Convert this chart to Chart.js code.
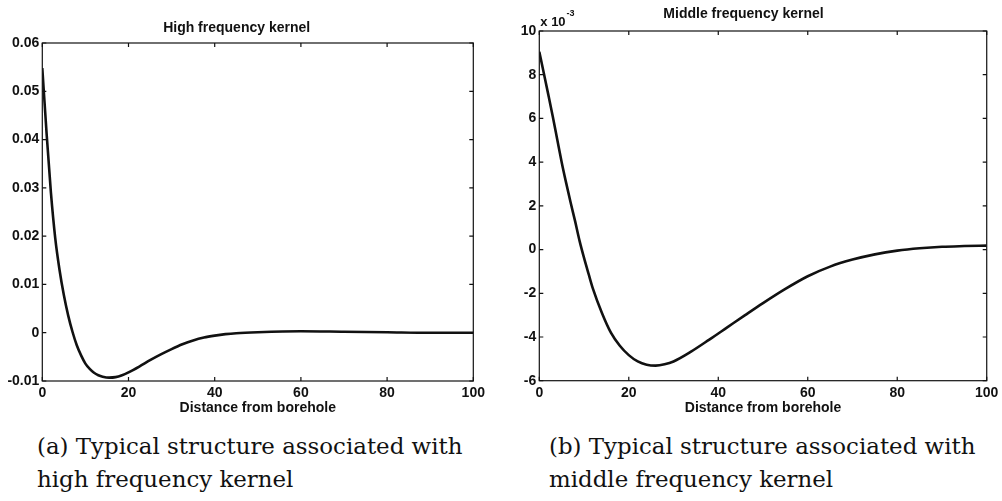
<!DOCTYPE html>
<html>
<head>
<meta charset="utf-8">
<script src="https://cdn.jsdelivr.net/npm/chart.js@4/dist/chart.umd.min.js"></script>
<style>
  html, body { margin: 0; padding: 0; background: #fff; }
  body { width: 1002px; height: 501px; position: relative; overflow: hidden; }
  .panel { position: absolute; top: 0; height: 425px; }
  .caption { position: absolute; font-family: "DejaVu Serif", serif; font-size: 22.9px; line-height: 33px; color: #111; white-space: nowrap; }
</style>
</head>
<body>
<div class="panel" style="left:0;width:500px;"><canvas id="c1" width="500" height="425"></canvas></div>
<div class="panel" style="left:500px;width:502px;"><canvas id="c2" width="502" height="425"></canvas></div>
<div class="caption" style="left:37px;top:430px;">(a) Typical structure associated with<br>high frequency kernel</div>
<div class="caption" style="left:549px;top:430px;">(b) Typical structure associated with<br>middle frequency kernel</div>
<script>
// ---- data ----
const highTitle = 'High frequency kernel';
const midTitle = 'Middle frequency kernel';
const xAxisTitle = 'Distance from borehole';

const highX = [0,1,2,3,4,5,6,7,8,9,10,11,12,13,14,15.5,17,18.5,20,22.5,25,27.5,30,32.5,35,37.5,40,42.5,45,50,60,70,80,90,100];
const highY = [0.0548,0.0412,0.0290,0.0196,0.0130,0.0078,0.0036,0.0002,-0.0026,-0.0047,-0.0064,-0.0075,-0.0083,-0.0088,-0.0091,-0.0093,-0.0092,-0.0088,-0.0082,-0.0070,-0.0057,-0.0045,-0.0034,-0.0024,-0.0016,-0.0010,-0.0006,-0.0003,-0.0001,0.0001,0.0003,0.0002,0.0001,0.0000,0.0000];

const midX = [0,1,2,3,4,5,6,7,8,9,10,11,12,14,16,18,20,22,24,26,28,30,34,38,42,46,50,55,60,65,70,75,80,85,90,95,100];
const midY = [9.05,8.08,7.1,6.1,5.05,4.0,3.05,2.15,1.3,0.4,-0.38,-1.1,-1.8,-2.9,-3.8,-4.4,-4.83,-5.12,-5.27,-5.31,-5.25,-5.12,-4.66,-4.12,-3.56,-3.00,-2.45,-1.80,-1.22,-0.78,-0.46,-0.22,-0.05,0.06,0.13,0.16,0.18];

const xTickValues = [0,20,40,60,80,100];
const xTickLabels = ['0','20','40','60','80','100'];
const highYTickValues = [-0.01,0,0.01,0.02,0.03,0.04,0.05,0.06];
const highYTickLabels = ['-0.01','0','0.01','0.02','0.03','0.04','0.05','0.06'];
const midYTickValues = [-6,-4,-2,0,2,4,6,8,10];
const midYTickLabels = ['-6','-4','-2','0','2','4','6','8','10'];
const midMultiplierBase = 'x 10';
const midMultiplierExp = '-3';

// ---- helpers ----
const FONT = '"Liberation Sans", Arial, sans-serif';

const framePlugin = {
  id: 'frame',
  afterDatasetsDraw(chart) {
    const {ctx, chartArea: a, scales} = chart;
    const x = scales.x, y = scales.y;
    ctx.save();
    ctx.strokeStyle = '#111';
    ctx.lineWidth = 1.2;
    ctx.strokeRect(a.left, a.top, a.right - a.left, a.bottom - a.top);
    const L = 4;
    ctx.beginPath();
    x.ticks.forEach(t => {
      const px = x.getPixelForValue(t.value);
      ctx.moveTo(px, a.bottom); ctx.lineTo(px, a.bottom - L);
      ctx.moveTo(px, a.top); ctx.lineTo(px, a.top + L);
    });
    y.ticks.forEach(t => {
      const py = y.getPixelForValue(t.value);
      ctx.moveTo(a.left, py); ctx.lineTo(a.left + L, py);
      ctx.moveTo(a.right, py); ctx.lineTo(a.right - L, py);
    });
    ctx.stroke();
    ctx.restore();
  }
};

const multiplierPlugin = {
  id: 'multiplier',
  afterDraw(chart, args, opts) {
    if (!opts || !opts.base) return;
    const {ctx, chartArea: a} = chart;
    ctx.save();
    ctx.fillStyle = '#111';
    ctx.textBaseline = 'middle';
    ctx.textAlign = 'left';
    ctx.font = 'bold 13px ' + FONT;
    const x0 = a.left + 1;
    ctx.fillText(opts.base, x0, a.top - 9);
    const w = ctx.measureText(opts.base).width;
    ctx.font = 'bold 9px ' + FONT;
    ctx.fillText(opts.exp, x0 + w + 1, a.top - 17);
    ctx.restore();
  }
};

function makeChart(id, cfg) {
  const pts = cfg.xs.map((v, i) => ({x: v, y: cfg.ys[i]}));
  return new Chart(document.getElementById(id), {
    type: 'line',
    data: {
      datasets: [{
        data: pts,
        borderColor: '#111',
        borderWidth: 2.6,
        pointRadius: 0,
        fill: false,
        cubicInterpolationMode: 'monotone'
      }]
    },
    options: {
      responsive: false,
      animation: false,
      events: [],
      layout: { padding: { left: 0, right: cfg.padRight, top: 0, bottom: 0 } },
      plugins: {
        legend: { display: false },
        tooltip: { enabled: false },
        title: {
          display: true,
          text: cfg.title,
          color: '#111',
          font: { family: FONT, size: 14, weight: 'bold', lineHeight: 1.2 },
          padding: { top: cfg.titlePadTop, bottom: cfg.titlePadBottom }
        },
        multiplier: cfg.multiplier || {}
      },
      scales: {
        x: {
          type: 'linear',
          min: 0, max: 100,
          grid: { display: false, drawTicks: false },
          border: { display: false },
          afterBuildTicks: s => { s.ticks = xTickValues.map(v => ({value: v})); },
          afterFit: s => { s.height = cfg.xAxisHeight; },
          ticks: {
            color: '#111',
            padding: 3.6,
            maxRotation: 0,
            autoSkip: false,
            font: { family: FONT, size: 14, weight: 'bold' },
            callback: (v, i) => xTickLabels[i]
          },
          title: {
            display: true,
            text: xAxisTitle,
            color: '#111',
            font: { family: FONT, size: 14, weight: 'bold', lineHeight: 1.2 },
            padding: { top: 0, bottom: 8.6 }
          }
        },
        y: {
          type: 'linear',
          min: cfg.yMin, max: cfg.yMax,
          grid: { display: false, drawTicks: false },
          border: { display: false },
          afterBuildTicks: s => { s.ticks = cfg.yTickValues.map(v => ({value: v})); },
          afterFit: s => { s.width = cfg.yAxisWidth; },
          ticks: {
            color: '#111',
            padding: 3,
            autoSkip: false,
            font: { family: FONT, size: 14, weight: 'bold' },
            callback: (v, i) => cfg.yTickLabels[i]
          }
        }
      }
    },
    plugins: [framePlugin, multiplierPlugin]
  });
}

makeChart('c1', {
  xs: highX, ys: highY, title: highTitle,
  yMin: -0.01, yMax: 0.06,
  yTickValues: highYTickValues, yTickLabels: highYTickLabels,
  padRight: 26.7, yAxisWidth: 42.3, xAxisHeight: 44,
  titlePadTop: 19.6, titlePadBottom: 6.6
});

makeChart('c2', {
  xs: midX, ys: midY, title: midTitle,
  yMin: -6, yMax: 10,
  yTickValues: midYTickValues, yTickLabels: midYTickLabels,
  padRight: 15, yAxisWidth: 39.3, xAxisHeight: 44.3,
  titlePadTop: 5.6, titlePadBottom: 8.6,
  multiplier: { base: midMultiplierBase, exp: midMultiplierExp }
});
</script>
</body>
</html>
